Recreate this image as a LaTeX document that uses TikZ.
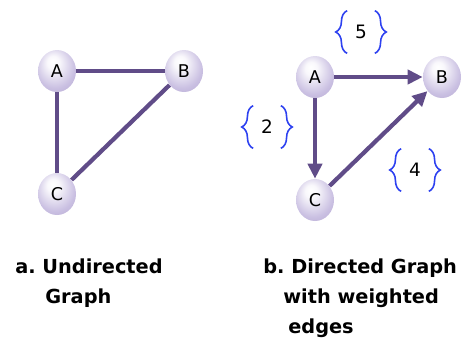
\documentclass[tikz,border=0pt]{standalone}
\usepackage{fontspec}
\setmainfont{DejaVu Sans}
\usetikzlibrary{arrows.meta,shapes.geometric,decorations.pathreplacing}

\definecolor{edgepurple}{RGB}{96,76,136}
\definecolor{ballmid}{RGB}{202,192,226}
\definecolor{balldark}{RGB}{162,148,194}
\definecolor{wblue}{RGB}{45,65,240}
\pgfdeclareradialshading{vertexball}{\pgfpoint{-6bp}{12bp}}{color(0bp)=(white); color(8bp)=(white!88!ballmid); color(26bp)=(ballmid); color(50bp)=(balldark)}

\tikzset{vertex/.style={ellipse, shading=vertexball, minimum width=0.76cm, minimum height=0.84cm, inner sep=0pt, font=\fontsize{10}{12}\selectfont},
  link/.style={edgepurple, line width=2.4pt},
  arc/.style={link, -{Triangle[length=8.5pt,width=8pt]}},
  weight/.style={minimum width=0.54cm, minimum height=0.84cm, inner sep=0pt, font=\fontsize{10.5}{12}\selectfont},
  wbrace/.style={wblue, line width=0.9pt, decorate, decoration={brace, amplitude=6.5pt, aspect=0.5}},
  caption/.style={anchor=base west, inner sep=0pt, font=\fontsize{11}{13}\selectfont\bfseries}}

\begin{document}
\begin{tikzpicture}[x=0.02cm, y=-0.02cm]
  \path [use as bounding box] (0,0) rectangle (462,343);
  % undirected
  \node [vertex] (uA) at (57,71)  {A};
  \node [vertex] (uB) at (184,71) {B};
  \node [vertex] (uC) at (57,194) {C};
  \draw [link] (uA) -- (uB);
  \draw [link] (uA) -- (uC);
  \draw [link] (uC) -- (uB);
  % directed, weighted
  \node [vertex] (dA) at (315,77)  {A};
  \node [vertex] (dB) at (442,77)  {B};
  \node [vertex] (dC) at (315,200) {C};
  \draw [arc] (dA) -- (dB);
  \draw [arc] (dA) -- (dC);
  \draw [arc] (dC) -- (dB);
  \node [weight] (w5) at (361,32)  {5};
  \node [weight] (w2) at (267,127) {2};
  \node [weight] (w4) at (415,170) {4};
  \foreach \w in {w5,w2,w4} {
    \draw [wbrace] (\w.south west) -- (\w.north west);
    \draw [wbrace] (\w.north east) -- (\w.south east);
  }
  % captions
  \node [caption] (capa)  at (15,273)  {a.\ Undirected};
  \node [caption] (capa2) at (45,303)  {Graph};
  \node [caption] (capb)  at (263,273) {b.\ Directed Graph};
  \node [caption] (capb2) at (283,303) {with weighted};
  \node [caption] (capb3) at (288,333) {edges};
\end{tikzpicture}
\end{document}
